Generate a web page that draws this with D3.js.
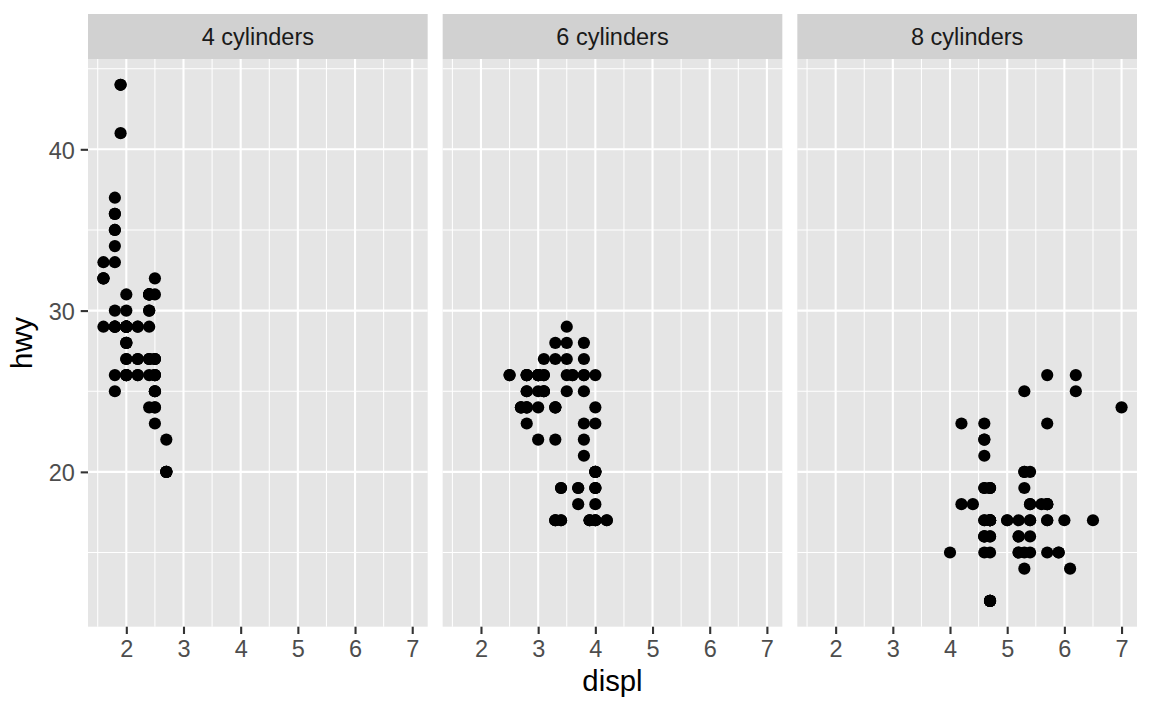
<!DOCTYPE html>
<html>
<head>
<meta charset="utf-8">
<script src="https://cdn.jsdelivr.net/npm/d3@7"></script>
<style>
  html, body { margin: 0; padding: 0; background: #fff; }
  svg { display: block; }
  text { font-family: "Liberation Sans", Arial, Helvetica, sans-serif; }
</style>
</head>
<body>
<svg id="chart" width="1152" height="711"></svg>
<script>
// ---- data (mpg: displ vs hwy, by number of cylinders) ----
const facetLabels = ["4 cylinders", "6 cylinders", "8 cylinders"];

const displ4 = [1.8,1.8,2.0,2.0,1.8,1.8,2.0,2.0, 2.4,2.4, 2.4,
  1.6,1.6,1.6,1.6,1.6,1.8,1.8,1.8,2.0, 2.4,2.4,2.4,2.4, 2.0,2.0,2.0,2.0,
  2.4,2.4,2.5,2.5, 2.5,2.5,2.5,2.5,2.5,2.5, 2.2,2.2,2.5,2.5,2.5,2.5,2.5,2.5,
  2.7,2.7, 2.2,2.2,2.4,2.4, 2.2,2.2,2.4,2.4, 1.8,1.8,1.8,1.8,1.8,
  2.7,2.7,2.7, 2.0,2.0,2.0,2.0, 1.9,2.0,2.0,2.0,2.0, 1.9,1.9,2.0,2.0, 1.8,1.8,2.0,2.0];
const hwy4 = [29,29,31,30,26,25,28,27, 27,30, 24,
  33,32,32,29,32,34,36,36,29, 26,27,30,31, 26,29,28,27,
  29,27,31,32, 25,24,27,25,26,23, 26,26,26,26,27,25,24,27,
  20,20, 29,27,31,31, 27,29,31,31, 30,33,35,37,35,
  20,20,22, 29,26,29,29, 44,29,26,29,29, 44,41,29,26, 29,29,28,29];

const displ6 = [2.8,2.8,3.1,2.8,2.8,3.1,3.1,2.8,3.1, 3.1,3.5,3.6,
  3.0,3.3,3.3,3.3,3.3,3.3,3.8,3.8,3.8,4.0, 3.7,3.7,3.9,3.9, 3.9,
  4.0,4.0,4.0,4.0, 4.2,4.2, 3.8,3.8,4.0,4.0, 2.5,2.5,3.3, 2.7,2.7,2.7,
  3.0,3.7,4.0, 4.0,4.0, 3.5,3.5, 3.0,3.0,3.5, 3.3,3.3,4.0,
  3.1,3.8,3.8,3.8, 3.4,3.4,4.0, 3.0,3.0,3.5, 3.0,3.0,3.3,
  3.4,3.4,4.0,4.0, 2.8, 2.8,2.8, 2.8,2.8,3.6];
const hwy6 = [26,26,27,25,25,25,25,24,25, 26,29,26,
  24,22,24,24,24,17,22,21,23,23, 19,18,17,17, 17,
  17,19,17,19, 17,17, 26,25,26,24, 26,26,28, 24,24,24,
  22,19,20, 17,19, 27,26, 26,25,25, 17,17,20,
  26,26,27,28, 19,17,20, 26,26,28, 26,26,27,
  17,19,18,20, 24, 23,24, 26,26,26];

const displ8 = [4.2, 5.3,5.3,5.3,5.7,6.0, 5.7,5.7,6.2,6.2,7.0, 5.3,5.3,5.7,6.5,
  4.7,4.7,4.7,5.2,5.2, 4.7,4.7,4.7,5.2,5.7,5.9,
  4.7,4.7,4.7,4.7,4.7,4.7,5.2,5.2,5.7,5.9, 4.6,4.6,5.4, 4.6,5.0,
  4.6,4.6,4.6,5.4,5.4, 4.6,4.6,4.6,4.6,5.4, 4.7,4.7,4.7,5.7,6.1,
  4.0,4.2,4.4,4.6, 5.4,5.4,5.4, 4.6,5.0, 5.6, 5.3, 4.7, 4.7,5.7];
const hwy8 = [23, 20,15,20,17,17, 26,23,26,25,24, 19,14,15,17,
  19,19,12,17,15, 17,12,17,16,18,15,
  16,12,17,17,16,12,15,16,17,15, 17,16,18, 19,17,
  16,16,17,15,17, 21,22,23,22,20, 17,12,19,18,14,
  15,18,18,15, 17,16,18, 19,17, 18, 25, 17, 15,18];

const xTicks = [2, 3, 4, 5, 6, 7];
const yTicks = [20, 30, 40];
const xMinor = [1.5, 2.5, 3.5, 4.5, 5.5, 6.5];
const yMinor = [15, 25, 35, 45];

const facets = [
  { label: facetLabels[0], x: displ4, y: hwy4 },
  { label: facetLabels[1], x: displ6, y: hwy6 },
  { label: facetLabels[2], x: displ8, y: hwy8 }
];

// ---- layout ----
const svg = d3.select("#chart");
const panelLeft = 88, panelRight = 1137, gap = 15;
const panelW = (panelRight - panelLeft - 2 * gap) / 3;
const stripTop = 14, panelTop = 59, panelBottom = 626.7;

const allX = displ4.concat(displ6, displ8);
const allY = hwy4.concat(hwy6, hwy8);
const xExt = d3.extent(allX), yExt = d3.extent(allY);
const xPad = (xExt[1] - xExt[0]) * 0.05, yPad = (yExt[1] - yExt[0]) * 0.05;

const y = d3.scaleLinear().domain([yExt[0] - yPad, yExt[1] + yPad]).range([panelBottom, panelTop]);

const tickFont = 23.5, titleFont = 29.3, tickLen = 7.3;

facets.forEach((f, i) => {
  const left = panelLeft + i * (panelW + gap);
  const x = d3.scaleLinear().domain([xExt[0] - xPad, xExt[1] + xPad]).range([left, left + panelW]);
  const g = svg.append("g");

  // strip
  g.append("rect").attr("x", left).attr("y", stripTop).attr("width", panelW)
    .attr("height", panelTop - stripTop).attr("fill", "#D1D1D1");
  g.append("text").attr("x", left + panelW / 2).attr("y", 44.5)
    .attr("text-anchor", "middle").attr("font-size", tickFont).attr("fill", "#1A1A1A")
    .text(f.label);

  // panel background
  g.append("rect").attr("x", left).attr("y", panelTop).attr("width", panelW)
    .attr("height", panelBottom - panelTop).attr("fill", "#E5E5E5");

  // minor grid
  g.selectAll(".xmin").data(xMinor.filter(v => v >= x.domain()[0] && v <= x.domain()[1])).enter()
    .append("line").attr("x1", d => x(d)).attr("x2", d => x(d))
    .attr("y1", panelTop).attr("y2", panelBottom).attr("stroke", "#fff").attr("stroke-width", 1.05);
  g.selectAll(".ymin").data(yMinor.filter(v => v >= y.domain()[0] && v <= y.domain()[1])).enter()
    .append("line").attr("y1", d => y(d)).attr("y2", d => y(d))
    .attr("x1", left).attr("x2", left + panelW).attr("stroke", "#fff").attr("stroke-width", 1.05);
  // major grid
  g.selectAll(".xmaj").data(xTicks).enter()
    .append("line").attr("x1", d => x(d)).attr("x2", d => x(d))
    .attr("y1", panelTop).attr("y2", panelBottom).attr("stroke", "#fff").attr("stroke-width", 2.1);
  g.selectAll(".ymaj").data(yTicks).enter()
    .append("line").attr("y1", d => y(d)).attr("y2", d => y(d))
    .attr("x1", left).attr("x2", left + panelW).attr("stroke", "#fff").attr("stroke-width", 2.1);

  // points
  g.selectAll("circle").data(f.x.map((d, k) => [d, f.y[k]])).enter()
    .append("circle").attr("cx", d => x(d[0])).attr("cy", d => y(d[1]))
    .attr("r", 6.1).attr("fill", "#000");

  // x axis
  const xa = g.append("g").attr("transform", `translate(0,${panelBottom})`)
    .call(d3.axisBottom(x).tickValues(xTicks).tickFormat(d3.format("d")).tickSize(tickLen).tickPadding(6));
  xa.select(".domain").remove();
  xa.selectAll(".tick line").attr("stroke", "#333333").attr("stroke-width", 2.1);
  xa.selectAll(".tick text").attr("fill", "#4D4D4D").attr("font-size", tickFont)
    .attr("font-family", null).attr("dy", null).attr("y", 30.3);

  if (i === 0) {
    const ya = g.append("g").attr("transform", `translate(${left},0)`)
      .call(d3.axisLeft(y).tickValues(yTicks).tickFormat(d3.format("d")).tickSize(tickLen).tickPadding(6));
    ya.select(".domain").remove();
    ya.selectAll(".tick line").attr("stroke", "#333333").attr("stroke-width", 2.1);
    ya.selectAll(".tick text").attr("fill", "#4D4D4D").attr("font-size", tickFont)
      .attr("font-family", null).attr("dy", "0.37em").attr("x", -13.2);
  }
});

// axis titles
svg.append("text").attr("x", (panelLeft + panelRight) / 2).attr("y", 691)
  .attr("text-anchor", "middle").attr("font-size", titleFont).attr("fill", "#000").text("displ");
svg.append("text").attr("transform", `translate(32,${(panelTop + panelBottom) / 2}) rotate(-90)`)
  .attr("text-anchor", "middle").attr("font-size", titleFont).attr("fill", "#000").text("hwy");
</script>
</body>
</html>
